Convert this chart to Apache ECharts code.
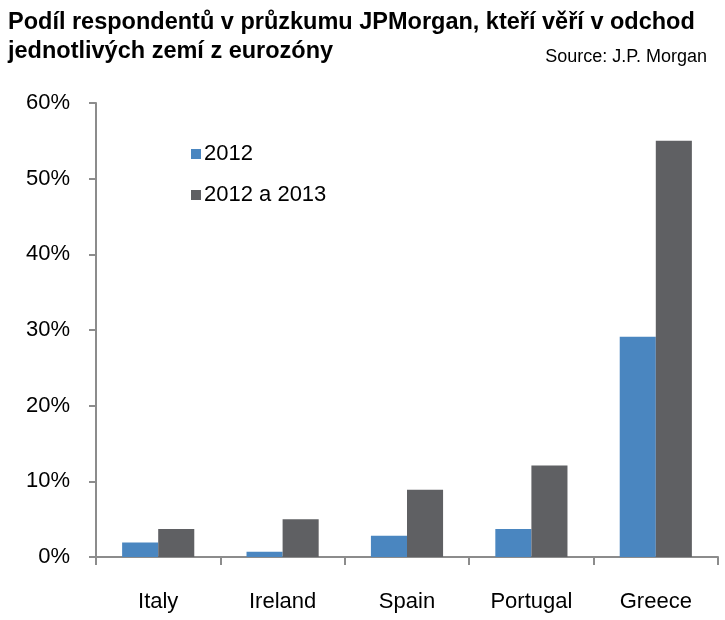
<!DOCTYPE html>
<html><head><meta charset="utf-8">
<script src="https://cdn.jsdelivr.net/npm/echarts@6/dist/echarts.min.js"></script>
<style>html,body{margin:0;padding:0;background:#fff}#c{width:725px;height:620px}</style>
</head><body><div id="c"></div>
<script>
const categories = ['Italy', 'Ireland', 'Spain', 'Portugal', 'Greece'];
const seriesNames = ['2012', '2012 a 2013'];
const values2012 = [1.9, 0.7, 2.8, 3.7, 29.1];
const values2012_2013 = [3.7, 5.0, 8.9, 12.1, 55.0];
const titleLines = ['Podíl respondentů v průzkumu JPMorgan, kteří věří v odchod', 'jednotlivých zemí z eurozóny'];
const sourceText = 'Source: J.P. Morgan';

const narrow = "'Liberation Sans Narrow', 'Arial Narrow', 'Liberation Sans', sans-serif";
const chart = echarts.init(document.getElementById('c'), null, {renderer: 'canvas'});
chart.setOption({
  backgroundColor: '#fff',
  animation: false,
  title: [
    {text: titleLines.join('\n'), left: 3, top: 3, padding: 5,
     textStyle: {fontFamily: "'Liberation Sans', Arial, sans-serif", fontWeight: 'bold', fontSize: 23.5, lineHeight: 29, color: '#000'}},
    {text: sourceText, right: 13, top: 43,
     textStyle: {fontFamily: narrow, fontWeight: 'normal', fontSize: 18, color: '#000'}}
  ],
  legend: {
    orient: 'vertical', left: 191, top: 143, padding: 0, itemWidth: 10, itemHeight: 10, itemGap: 19,
    icon: 'rect',
    textStyle: {fontFamily: narrow, fontSize: 22, color: '#000', padding: [0, 0, 0, -2]},
    data: seriesNames
  },
  grid: {left: 96, right: 7, top: 103, bottom: 63, containLabel: false},
  xAxis: {
    type: 'category', data: categories,
    axisLine: {lineStyle: {color: '#8c8c8c', width: 2}},
    axisTick: {show: true, length: 8, lineStyle: {color: '#8c8c8c', width: 2}},
    axisLabel: {fontFamily: narrow, fontSize: 22, color: '#000', margin: 34}
  },
  yAxis: {
    type: 'value', min: 0, max: 60, interval: 10,
    axisLine: {show: true, lineStyle: {color: '#8c8c8c', width: 2}},
    axisTick: {show: true, length: 7, lineStyle: {color: '#8c8c8c', width: 2}},
    splitLine: {show: false},
    axisLabel: {formatter: '{value}%', fontFamily: narrow, fontSize: 22, color: '#000', margin: 26}
  },
  series: [
    {name: seriesNames[0], type: 'bar', data: values2012, itemStyle: {color: '#4a86c0'}, barGap: '0%', barCategoryGap: '42%'},
    {name: seriesNames[1], type: 'bar', data: values2012_2013, itemStyle: {color: '#5f6063'}, barGap: '0%', barCategoryGap: '42%'}
  ]
});
</script></body></html>
